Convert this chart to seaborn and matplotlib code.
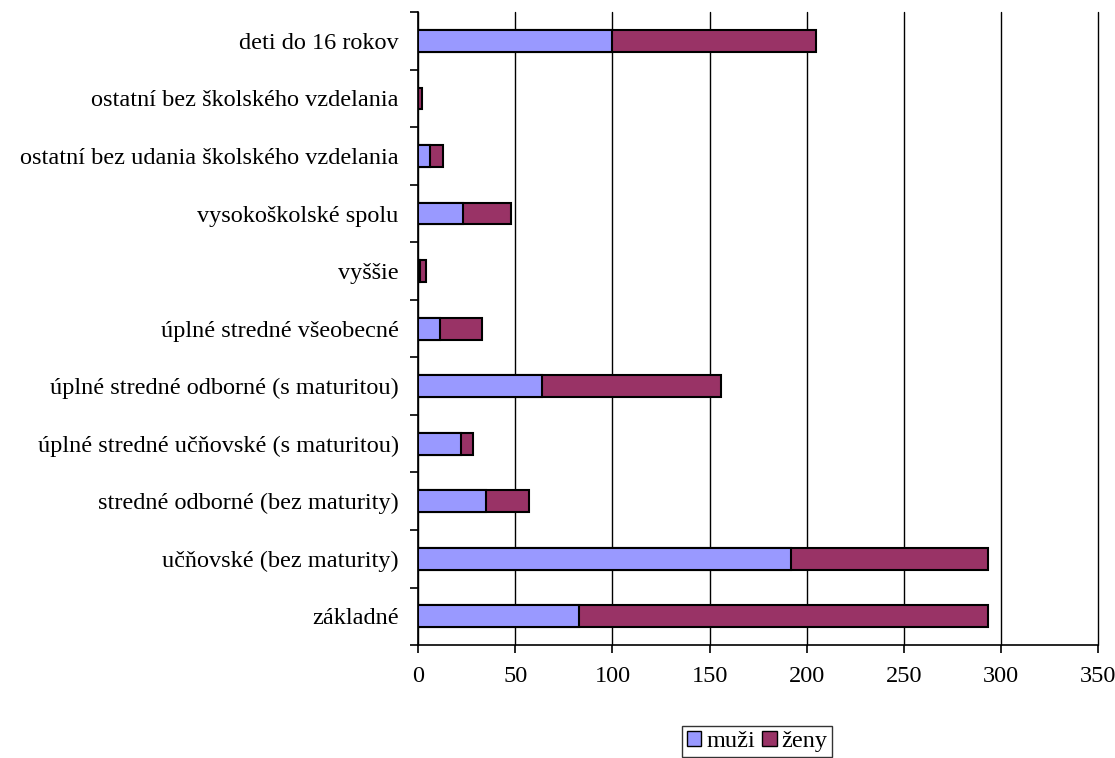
import numpy as np
import pandas as pd
import matplotlib
matplotlib.use("Agg")
import matplotlib.pyplot as plt
import seaborn as sns
from matplotlib.patches import Patch

categories = [
    "deti do 16 rokov",
    "ostatní bez školského vzdelania",
    "ostatní bez udania školského vzdelania",
    "vysokoškolské spolu",
    "vyššie",
    "úplné stredné všeobecné",
    "úplné stredné odborné (s maturitou)",
    "úplné stredné učňovské (s maturitou)",
    "stredné odborné (bez maturity)",
    "učňovské (bez maturity)",
    "základné",
]
muzi = [100, 0, 6, 23, 1, 11, 64, 22, 35, 192, 83]
zeny = [105, 2, 7, 25, 3, 22, 92, 6, 22, 101, 210]
xticks = [0, 50, 100, 150, 200, 250, 300, 350]

c_muzi = "#9999FF"
c_zeny = "#993366"

df = pd.DataFrame({"kat": categories, "muzi": muzi, "zeny": zeny})
df["spolu"] = df["muzi"] + df["zeny"]

sns.set_style("white")
plt.rcParams["font.family"] = ["Liberation Serif", "DejaVu Serif"]
plt.rcParams["text.color"] = "black"
plt.rcParams["xtick.color"] = "black"
plt.rcParams["ytick.color"] = "black"

fig = plt.figure(figsize=(11.15, 7.58), dpi=100)
ax = fig.add_axes([0.375, 0.149, 0.61, 0.835])

# stacked bars: total first, men on top of it
sns.barplot(data=df, x="spolu", y="kat", orient="h", color=c_zeny,
            saturation=1, width=0.38, edgecolor="black", linewidth=1.5, ax=ax)
sns.barplot(data=df, x="muzi", y="kat", orient="h", color=c_muzi,
            saturation=1, width=0.38, edgecolor="black", linewidth=1.5, ax=ax)

ax.set_xlim(0, 350)
ax.set_ylim(len(categories) - 0.5, -0.5)
ax.set_xticks(xticks)
ax.set_xlabel("")
ax.set_ylabel("")
ax.set_axisbelow(True)
ax.grid(axis="x", color="black", linewidth=1)
ax.grid(axis="y", visible=False)
for gl in ax.get_xgridlines():
    gl.set_clip_on(False)

for s in ["top", "right"]:
    ax.spines[s].set_visible(False)
for s in ["left", "bottom"]:
    ax.spines[s].set_color("black")
    ax.spines[s].set_linewidth(1.2)

ax.set_yticks(np.arange(len(categories)))
ax.set_yticklabels(categories)
ax.set_yticks(np.arange(-0.5, len(categories), 1), minor=True)
ax.tick_params(axis="y", which="major", length=0, pad=14, labelsize=17.5, labelcolor="black")
ax.tick_params(axis="y", which="minor", length=6, width=1.2, color="black", direction="out", left=True)
ax.tick_params(axis="x", length=6, width=1.2, color="black", direction="out", bottom=True, pad=9,
               labelsize=17.5, labelcolor="black")

handles = [Patch(facecolor=c_muzi, edgecolor="black", label="muži"),
           Patch(facecolor=c_zeny, edgecolor="black", label="ženy")]
fig.legend(handles=handles, loc="upper center", bbox_to_anchor=(0.679, 0.058), ncol=2,
           frameon=True, fancybox=False, edgecolor="black", fontsize=17.5,
           handlelength=0.6, handleheight=0.6, handletextpad=0.2, columnspacing=0.3,
           borderpad=0.2)

fig.savefig("out.png", dpi=100)
